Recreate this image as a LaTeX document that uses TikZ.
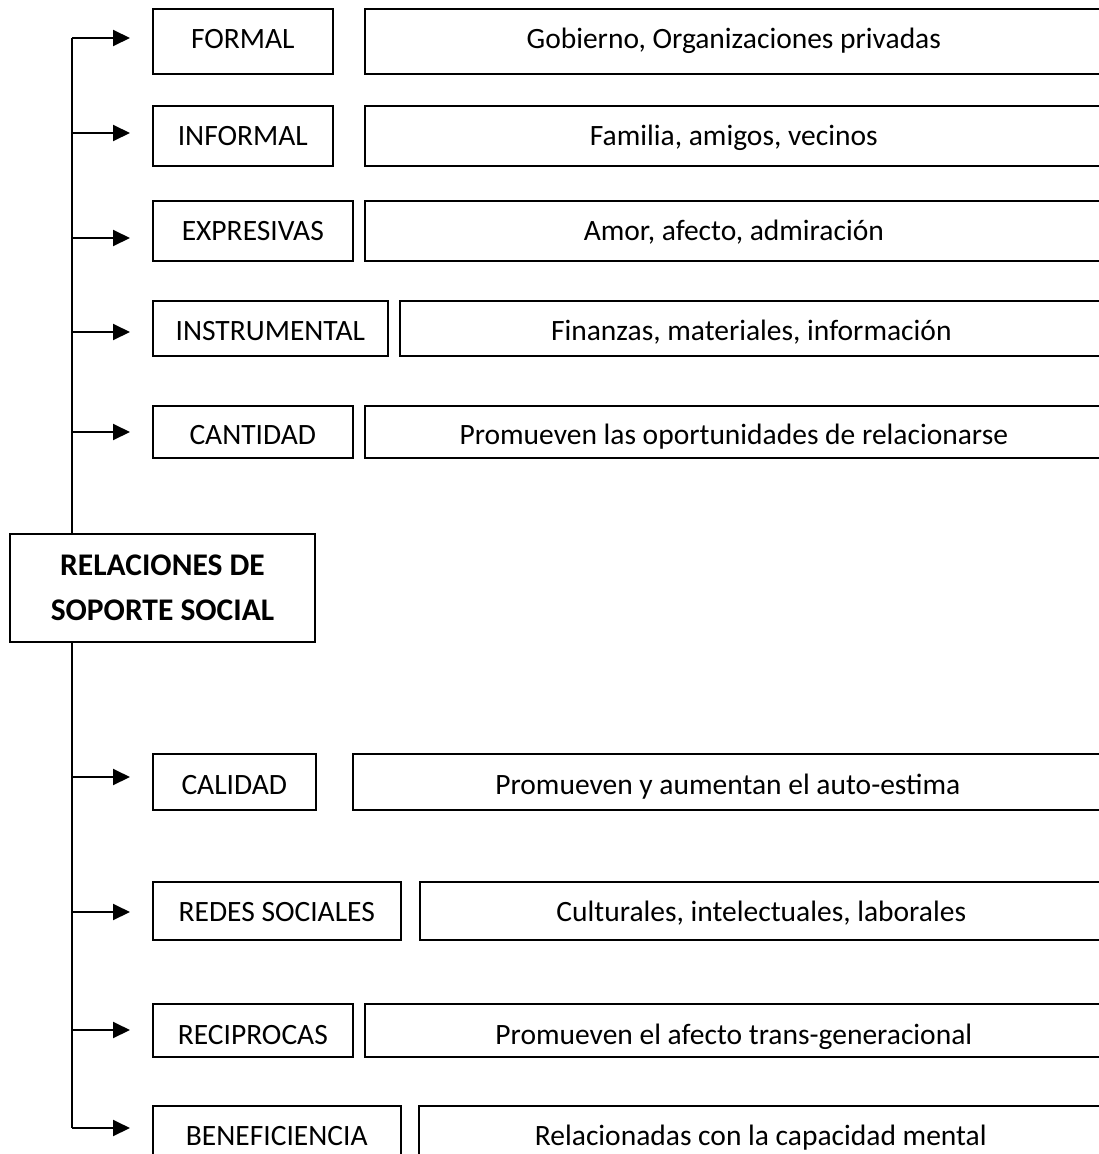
\documentclass[tikz,border=0pt]{standalone}
\usepackage{fontspec}
\setmainfont{Carlito}
\usetikzlibrary{arrows.meta}
\tikzset{
  boxbase/.style={draw, line width=1.6pt, inner sep=0pt, anchor=north west, align=center,
    font=\fontsize{29.5}{34}\selectfont},
  lbox/.style={boxbase},
  rbox/.style={boxbase},
  cbox/.style={draw, line width=1.6pt, fill=white, inner sep=0pt, align=center,
    font=\fontsize{31.5}{45}\selectfont\bfseries, minimum width=305pt, minimum height=108pt},
  spine/.style={line width=2pt},
  arr/.style={line width=2pt, -{Triangle[length=17pt,width=16pt]}, shorten >=22pt}
}
% #1 id, #2 top, #3 arrow y, #4 text height, #5 text depth, #6 left width, #7 right x, #8 left text, #9 right text
\newcommand\sprow[9]{%
  \node[lbox, text height=#4pt, text depth=#5pt, minimum width=#6pt] (L#1) at (152,#2) {#8};
  \node[rbox, text height=#4pt, text depth=#5pt, minimum width={(1102-#7)*1pt}] (R#1) at (#7,#2) {#9};
  \coordinate (s#1) at (72,#3);
  \draw[arr] (s#1) -- (s#1 -| L#1.west);
}
\begin{document}
\begin{tikzpicture}[x=1pt,y=-1pt]
\useasboundingbox (0,0) rectangle (1099,1154);
\clip (0,0) rectangle (1099,1154);
\fill[white] (0,0) rectangle (1099,1154);

\sprow{1}{8}{38}{39.5}{25.5}{180}{364}{FORMAL}{Gobierno, Organizaciones privadas}
\sprow{2}{105}{133}{40}{20}{180}{364}{INFORMAL}{Familia, amigos, vecinos}
\sprow{3}{200}{238}{40}{20}{200}{364}{EXPRESIVAS}{Amor, afecto, admiración}
\sprow{4}{300}{332}{40}{15}{235}{399}{INSTRUMENTAL}{Finanzas, materiales, información}
\sprow{5}{405}{432}{39}{13}{200}{364}{CANTIDAD}{Promueven las oportunidades de relacionarse}
\sprow{6}{753}{777}{41}{15}{163}{352}{CALIDAD}{Promueven y aumentan el auto-estima}
\sprow{7}{881}{912}{40}{18}{248}{419}{REDES SOCIALES}{Culturales, intelectuales, laborales}
\sprow{8}{1003}{1030}{41}{12}{200}{364}{RECIPROCAS}{Promueven el afecto trans-generacional}
\sprow{9}{1105}{1128}{40}{15}{248}{418}{BENEFICIENCIA}{Relacionadas con la capacidad mental}

\node[cbox] (C) at (162.5,588) {RELACIONES DE\\SOPORTE SOCIAL};

\draw[spine] (s1) -- (s1 |- C.north);
\draw[spine] (s9 |- C.south) -- (s9);
\end{tikzpicture}
\end{document}
